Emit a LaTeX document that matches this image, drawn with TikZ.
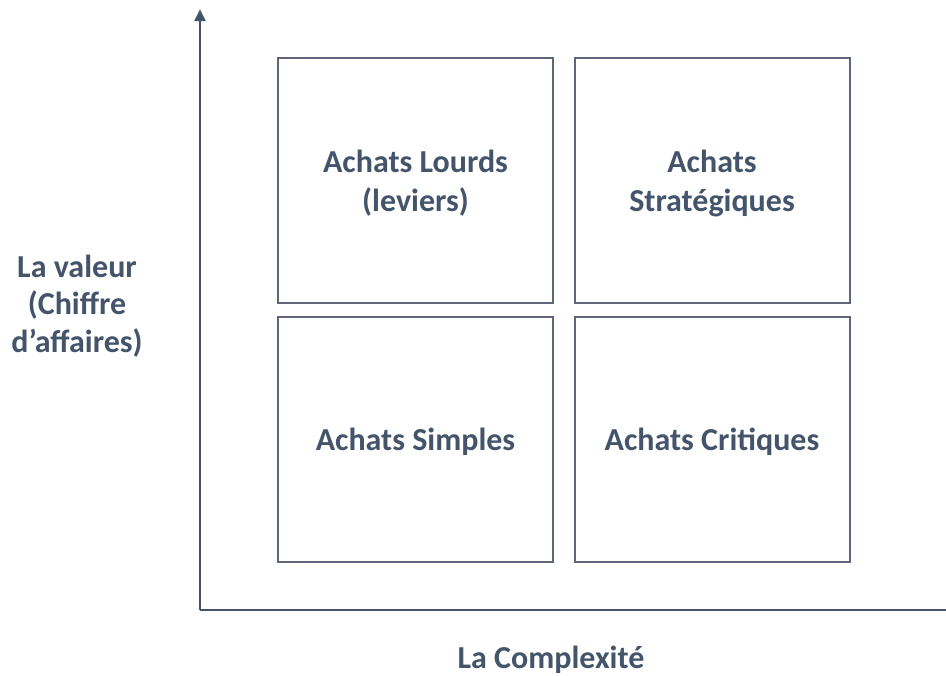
\documentclass[tikz,border=0pt]{standalone}
\usepackage{fontspec}
\setmainfont{Carlito}
\usetikzlibrary{arrows.meta,positioning}
\definecolor{slate}{HTML}{44546A}
\definecolor{boxgray}{HTML}{5F6679}

\begin{document}
\begin{tikzpicture}[x=0.75pt,y=-0.75pt,
  cell/.style={draw=boxgray,line width=1.5pt,minimum width=275*0.75pt,minimum height=245*0.75pt,align=center,inner sep=0pt},
  label/.style={text=slate,font=\bfseries\fontsize{24}{29.5}\selectfont,align=center},
  axis/.style={draw=slate,line width=2.2pt}]
 \pgfmathsetmacro{\xaxis}{200} % x of the vertical axis
 \pgfmathsetmacro{\yaxis}{610} % y of the horizontal axis

 \useasboundingbox (0,0) rectangle (946,675);

 % axes
 \coordinate (origin) at (\xaxis,\yaxis);
 \coordinate (ytop) at (\xaxis,9);
 \coordinate (xright) at (946,\yaxis);
 \draw[axis,-{Triangle[length=9pt,width=8pt]}] (origin) -- (ytop);
 \draw[axis] (origin) -- (xright);

 % the four cells
 \node[cell] (lourds) at (415.5,180.5) {};
 \node[cell] (strat) at (712,180.5) {};
 \node[cell] (simples) at (415.5,439) {};
 \node[cell] (critiques) at (712,439) {};

 \node[label] (lourdsText) at ([yshift=-2pt]lourds) {Achats Lourds\\(leviers)};
 \node[label] (stratText) at ([yshift=-2pt]strat) {Achats\\Stratégiques};
 \node[label] (simplesText) at ([yshift=-2pt]simples) {Achats Simples};
 \node[label] (critiquesText) at ([yshift=-2pt]critiques) {Achats Critiques};

 % axis labels
 \node[label,font=\bfseries\fontsize{24}{28}\selectfont] (valeur) at (77,306) {La valeur\\(Chiffre\\d’affaires)};
 \node[label] (complexite) at (551,660) {La Complexité};
\end{tikzpicture}
\end{document}
